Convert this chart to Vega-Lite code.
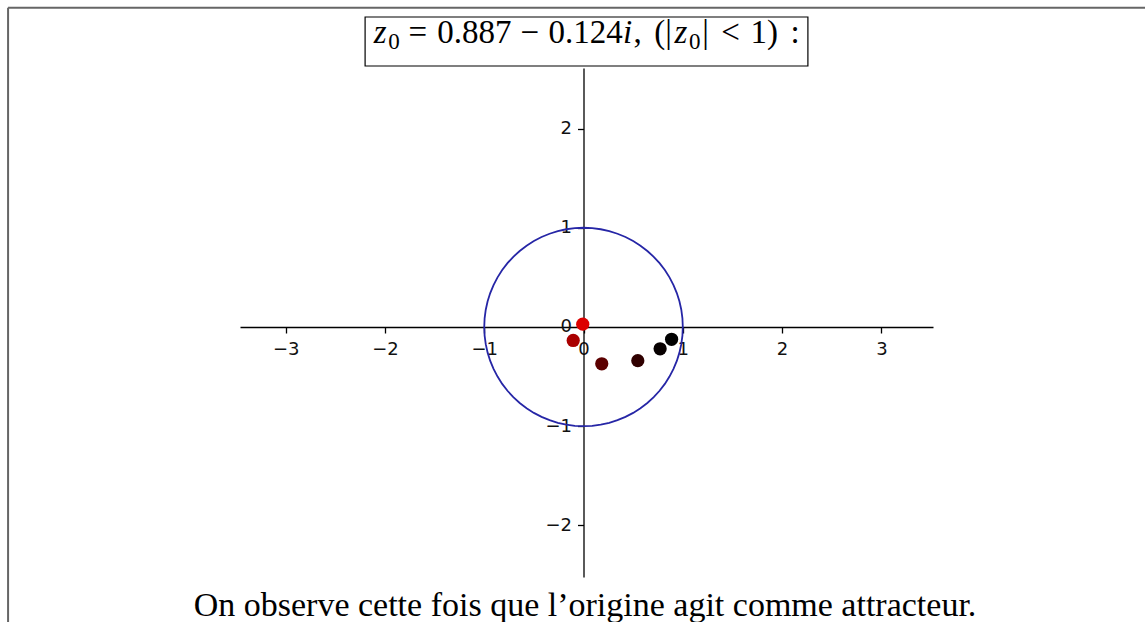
{
  "$schema": "https://vega.github.io/schema/vega-lite/v6.json",
  "width": 693,
  "height": 509,
  "autosize": {"type": "none"},
  "padding": {"left": 240, "top": 68, "right": 212, "bottom": 45},
  "background": "white",
  "config": {
    "view": {"stroke": null},
    "axis": {
      "grid": false,
      "domainColor": "#000000",
      "domainWidth": 1.3,
      "tickColor": "#000000",
      "tickWidth": 1.3,
      "tickSize": 6,
      "labelFont": "DejaVu Sans",
      "labelFontSize": 18,
      "labelColor": "#111111",
      "labelFlush": false,
      "labelOverlap": false
    }
  },
  "datasets": {
    "iterates": [
      {"n": 0, "x": 0.887, "y": -0.124},
      {"n": 1, "x": 0.7714, "y": -0.22},
      {"n": 2, "x": 0.5467, "y": -0.3394},
      {"n": 3, "x": 0.1837, "y": -0.371},
      {"n": 4, "x": -0.1039, "y": -0.1363},
      {"n": 5, "x": -0.0078, "y": 0.0283}
    ],
    "unitCircle": [
      {"a": 0, "x": 1, "y": 0}, {"a": 5, "x": 0.9962, "y": 0.0872}, {"a": 10, "x": 0.9848, "y": 0.1736},
      {"a": 15, "x": 0.9659, "y": 0.2588}, {"a": 20, "x": 0.9397, "y": 0.342}, {"a": 25, "x": 0.9063, "y": 0.4226},
      {"a": 30, "x": 0.866, "y": 0.5}, {"a": 35, "x": 0.8192, "y": 0.5736}, {"a": 40, "x": 0.766, "y": 0.6428},
      {"a": 45, "x": 0.7071, "y": 0.7071}, {"a": 50, "x": 0.6428, "y": 0.766}, {"a": 55, "x": 0.5736, "y": 0.8192},
      {"a": 60, "x": 0.5, "y": 0.866}, {"a": 65, "x": 0.4226, "y": 0.9063}, {"a": 70, "x": 0.342, "y": 0.9397},
      {"a": 75, "x": 0.2588, "y": 0.9659}, {"a": 80, "x": 0.1736, "y": 0.9848}, {"a": 85, "x": 0.0872, "y": 0.9962},
      {"a": 90, "x": 0, "y": 1}, {"a": 95, "x": -0.0872, "y": 0.9962}, {"a": 100, "x": -0.1736, "y": 0.9848},
      {"a": 105, "x": -0.2588, "y": 0.9659}, {"a": 110, "x": -0.342, "y": 0.9397}, {"a": 115, "x": -0.4226, "y": 0.9063},
      {"a": 120, "x": -0.5, "y": 0.866}, {"a": 125, "x": -0.5736, "y": 0.8192}, {"a": 130, "x": -0.6428, "y": 0.766},
      {"a": 135, "x": -0.7071, "y": 0.7071}, {"a": 140, "x": -0.766, "y": 0.6428}, {"a": 145, "x": -0.8192, "y": 0.5736},
      {"a": 150, "x": -0.866, "y": 0.5}, {"a": 155, "x": -0.9063, "y": 0.4226}, {"a": 160, "x": -0.9397, "y": 0.342},
      {"a": 165, "x": -0.9659, "y": 0.2588}, {"a": 170, "x": -0.9848, "y": 0.1736}, {"a": 175, "x": -0.9962, "y": 0.0872},
      {"a": 180, "x": -1, "y": 0}, {"a": 185, "x": -0.9962, "y": -0.0872}, {"a": 190, "x": -0.9848, "y": -0.1736},
      {"a": 195, "x": -0.9659, "y": -0.2588}, {"a": 200, "x": -0.9397, "y": -0.342}, {"a": 205, "x": -0.9063, "y": -0.4226},
      {"a": 210, "x": -0.866, "y": -0.5}, {"a": 215, "x": -0.8192, "y": -0.5736}, {"a": 220, "x": -0.766, "y": -0.6428},
      {"a": 225, "x": -0.7071, "y": -0.7071}, {"a": 230, "x": -0.6428, "y": -0.766}, {"a": 235, "x": -0.5736, "y": -0.8192},
      {"a": 240, "x": -0.5, "y": -0.866}, {"a": 245, "x": -0.4226, "y": -0.9063}, {"a": 250, "x": -0.342, "y": -0.9397},
      {"a": 255, "x": -0.2588, "y": -0.9659}, {"a": 260, "x": -0.1736, "y": -0.9848}, {"a": 265, "x": -0.0872, "y": -0.9962},
      {"a": 270, "x": 0, "y": -1}, {"a": 275, "x": 0.0872, "y": -0.9962}, {"a": 280, "x": 0.1736, "y": -0.9848},
      {"a": 285, "x": 0.2588, "y": -0.9659}, {"a": 290, "x": 0.342, "y": -0.9397}, {"a": 295, "x": 0.4226, "y": -0.9063},
      {"a": 300, "x": 0.5, "y": -0.866}, {"a": 305, "x": 0.5736, "y": -0.8192}, {"a": 310, "x": 0.6428, "y": -0.766},
      {"a": 315, "x": 0.7071, "y": -0.7071}, {"a": 320, "x": 0.766, "y": -0.6428}, {"a": 325, "x": 0.8192, "y": -0.5736},
      {"a": 330, "x": 0.866, "y": -0.5}, {"a": 335, "x": 0.9063, "y": -0.4226}, {"a": 340, "x": 0.9397, "y": -0.342},
      {"a": 345, "x": 0.9659, "y": -0.2588}, {"a": 350, "x": 0.9848, "y": -0.1736}, {"a": 355, "x": 0.9962, "y": -0.0872},
      {"a": 360, "x": 1, "y": 0}
    ]
  },
  "layer": [
    {
      "data": {"name": "unitCircle"},
      "mark": {"type": "line", "stroke": "#2626a6", "strokeWidth": 1.8, "interpolate": "linear"},
      "encoding": {
        "x": {
          "field": "x", "type": "quantitative", "title": null,
          "scale": {"domain": [-3.46, 3.52], "nice": false, "zero": false},
          "axis": {"orient": "bottom", "offset": -250, "values": [-3, -2, -1, 0, 1, 2, 3], "format": "d", "labelPadding": 7}
        },
        "y": {
          "field": "y", "type": "quantitative", "title": null,
          "scale": {"domain": [-2.52, 2.61], "nice": false, "zero": false},
          "axis": {"orient": "left", "offset": -343.5, "values": [-2, -1, 0, 1, 2], "format": "d", "labelPadding": 6}
        },
        "order": {"field": "a", "type": "quantitative"}
      }
    },
    {
      "data": {"name": "iterates"},
      "mark": {"type": "circle", "size": 175, "opacity": 1},
      "encoding": {
        "x": {"field": "x", "type": "quantitative", "title": null},
        "y": {"field": "y", "type": "quantitative", "title": null},
        "color": {
          "field": "n", "type": "ordinal", "legend": null,
          "scale": {"domain": [0, 1, 2, 3, 4, 5], "range": ["#000000", "#070000", "#300000", "#5c0000", "#aa0000", "#dc0000"]}
        }
      }
    },
    {
      "data": {"values": [{}]},
      "mark": {"type": "rule", "stroke": "#666666", "strokeWidth": 2},
      "encoding": {"x": {"datum": -5.796}, "x2": {"datum": 5.8}, "y": {"datum": 3.218}}
    },
    {
      "data": {"values": [{}]},
      "mark": {"type": "rule", "stroke": "#666666", "strokeWidth": 2},
      "encoding": {"x": {"datum": -5.796}, "y": {"datum": 3.218}, "y2": {"datum": -3.0}}
    },
    {
      "data": {"values": [{}]},
      "mark": {"type": "rect", "filled": false, "stroke": "#000000", "strokeWidth": 1.2},
      "encoding": {"x": {"datum": -2.2}, "x2": {"datum": 2.26}, "y": {"datum": 3.124}, "y2": {"datum": 2.63}}
    },
    {"data": {"values": [{}]}, "mark": {"type": "text", "text": "z", "font": "Liberation Serif", "fontStyle": "italic", "fontSize": 33, "align": "center", "baseline": "alphabetic", "color": "#000"},
     "encoding": {"x": {"datum": -2.047}, "y": {"datum": 2.865}}},
    {"data": {"values": [{}]}, "mark": {"type": "text", "text": "0", "font": "Liberation Serif", "fontSize": 23, "align": "center", "baseline": "alphabetic", "color": "#000"},
     "encoding": {"x": {"datum": -1.909}, "y": {"datum": 2.805}}},
    {"data": {"values": [{}]}, "mark": {"type": "text", "text": "=", "font": "Liberation Serif", "fontSize": 33, "align": "center", "baseline": "alphabetic", "color": "#000"},
     "encoding": {"x": {"datum": -1.67}, "y": {"datum": 2.865}}},
    {"data": {"values": [{}]}, "mark": {"type": "text", "text": "0.887", "font": "Liberation Serif", "fontSize": 33, "align": "center", "baseline": "alphabetic", "color": "#000"},
     "encoding": {"x": {"datum": -1.1}, "y": {"datum": 2.865}}},
    {"data": {"values": [{}]}, "mark": {"type": "text", "text": "−", "font": "Liberation Serif", "fontSize": 33, "align": "center", "baseline": "alphabetic", "color": "#000"},
     "encoding": {"x": {"datum": -0.54}, "y": {"datum": 2.865}}},
    {"data": {"values": [{}]}, "mark": {"type": "text", "text": "0.124", "font": "Liberation Serif", "fontSize": 33, "align": "center", "baseline": "alphabetic", "color": "#000"},
     "encoding": {"x": {"datum": 0.02}, "y": {"datum": 2.865}}},
    {"data": {"values": [{}]}, "mark": {"type": "text", "text": "i", "font": "Liberation Serif", "fontStyle": "italic", "fontSize": 33, "align": "center", "baseline": "alphabetic", "color": "#000"},
     "encoding": {"x": {"datum": 0.445}, "y": {"datum": 2.865}}},
    {"data": {"values": [{}]}, "mark": {"type": "text", "text": ",", "font": "Liberation Serif", "fontSize": 33, "align": "center", "baseline": "alphabetic", "color": "#000"},
     "encoding": {"x": {"datum": 0.545}, "y": {"datum": 2.865}}},
    {"data": {"values": [{}]}, "mark": {"type": "text", "text": "(|", "font": "Liberation Serif", "fontSize": 33, "align": "center", "baseline": "alphabetic", "color": "#000"},
     "encoding": {"x": {"datum": 0.8}, "y": {"datum": 2.865}}},
    {"data": {"values": [{}]}, "mark": {"type": "text", "text": "z", "font": "Liberation Serif", "fontStyle": "italic", "fontSize": 33, "align": "center", "baseline": "alphabetic", "color": "#000"},
     "encoding": {"x": {"datum": 0.98}, "y": {"datum": 2.865}}},
    {"data": {"values": [{}]}, "mark": {"type": "text", "text": "0", "font": "Liberation Serif", "fontSize": 23, "align": "center", "baseline": "alphabetic", "color": "#000"},
     "encoding": {"x": {"datum": 1.12}, "y": {"datum": 2.805}}},
    {"data": {"values": [{}]}, "mark": {"type": "text", "text": "|", "font": "Liberation Serif", "fontSize": 33, "align": "center", "baseline": "alphabetic", "color": "#000"},
     "encoding": {"x": {"datum": 1.23}, "y": {"datum": 2.865}}},
    {"data": {"values": [{}]}, "mark": {"type": "text", "text": "<", "font": "Liberation Serif", "fontSize": 33, "align": "center", "baseline": "alphabetic", "color": "#000"},
     "encoding": {"x": {"datum": 1.48}, "y": {"datum": 2.865}}},
    {"data": {"values": [{}]}, "mark": {"type": "text", "text": "1)", "font": "Liberation Serif", "fontSize": 33, "align": "center", "baseline": "alphabetic", "color": "#000"},
     "encoding": {"x": {"datum": 1.82}, "y": {"datum": 2.865}}},
    {"data": {"values": [{}]}, "mark": {"type": "text", "text": ":", "font": "Liberation Serif", "fontSize": 33, "align": "center", "baseline": "alphabetic", "color": "#000"},
     "encoding": {"x": {"datum": 2.13}, "y": {"datum": 2.865}}},
    {"data": {"values": [{}]}, "mark": {"type": "text", "text": "On observe cette fois que l’origine agit comme attracteur.", "font": "Liberation Serif", "fontSize": 34, "align": "center", "baseline": "alphabetic", "color": "#000"},
     "encoding": {"x": {"datum": 0.015}, "y": {"datum": -2.913}}}
  ]
}
